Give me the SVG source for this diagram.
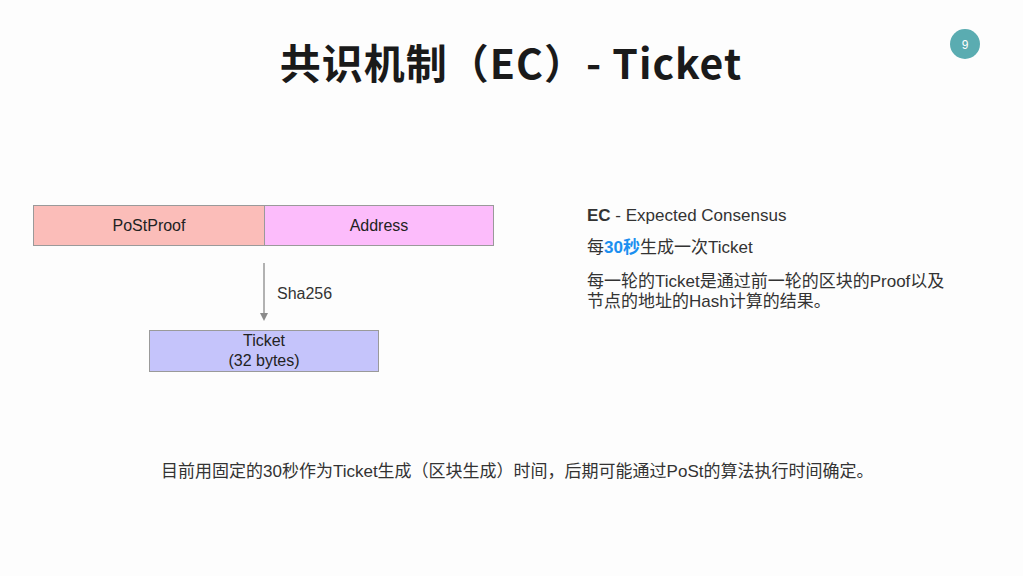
<svg xmlns="http://www.w3.org/2000/svg" width="1023" height="576" viewBox="0 0 1023 576">
<defs>
<style>
.t{font-family:"Liberation Sans","Noto Sans CJK SC",sans-serif;fill:#333;}
.box{stroke:#9a9a9a;stroke-width:1;}
.lbl{font-family:"Liberation Sans","Noto Sans CJK SC",sans-serif;font-size:16px;fill:#222;text-anchor:middle;}
</style>
</defs>
<rect width="1023" height="576" fill="#fdfdfd"/>
<text x="511" y="79" text-anchor="middle" font-family="'Noto Sans CJK SC',sans-serif" font-weight="bold" font-size="41" letter-spacing="1" fill="#1a1a1a">共识机制（EC）- Ticket</text>
<g id="pagenum">
<circle cx="965" cy="44" r="15" fill="#5aacb1"/>
<text x="965" y="48.5" text-anchor="middle" font-family="'Liberation Sans',sans-serif" font-size="12" fill="#fff">9</text>
</g>
<g id="postproof">
<rect class="box" x="33.5" y="205.5" width="231" height="40" fill="#fbbdb9"/>
<text class="lbl" x="149" y="231">PoStProof</text>
</g>
<g id="address">
<rect class="box" x="264.5" y="205.5" width="229" height="40" fill="#fcbcfb"/>
<text class="lbl" x="379" y="231">Address</text>
</g>
<g id="connectors">
<line x1="264" y1="263" x2="264" y2="314" stroke="#8a8a8a" stroke-width="1.3"/>
<path d="M260,313 L268,313 L264,321 Z" fill="#8a8a8a"/>
<text class="t" x="277" y="299" font-size="16" fill="#222">Sha256</text>
</g>
<g id="ticket">
<rect class="box" x="149.5" y="330.5" width="229" height="41" fill="#c5c4fb"/>
<text class="lbl" x="264" y="346">Ticket</text>
<text class="lbl" x="264" y="366">(32 bytes)</text>
</g>
<g id="notes">
<text class="t" x="587" y="221" font-size="17"><tspan font-weight="bold">EC</tspan> - Expected Consensus</text>
<text class="t" x="587" y="253" font-size="17">每<tspan font-weight="bold" fill="#1b8ff0">30秒</tspan>生成一次Ticket</text>
<text class="t" x="587" y="287" font-size="17">每一轮的Ticket是通过前一轮的区块的Proof以及</text>
<text class="t" x="587" y="307" font-size="17">节点的地址的Hash计算的结果。</text>
</g>
<text class="t" x="161" y="477" font-size="17">目前用固定的30秒作为Ticket生成（区块生成）时间，后期可能通过PoSt的算法执行时间确定。</text>
</svg>
